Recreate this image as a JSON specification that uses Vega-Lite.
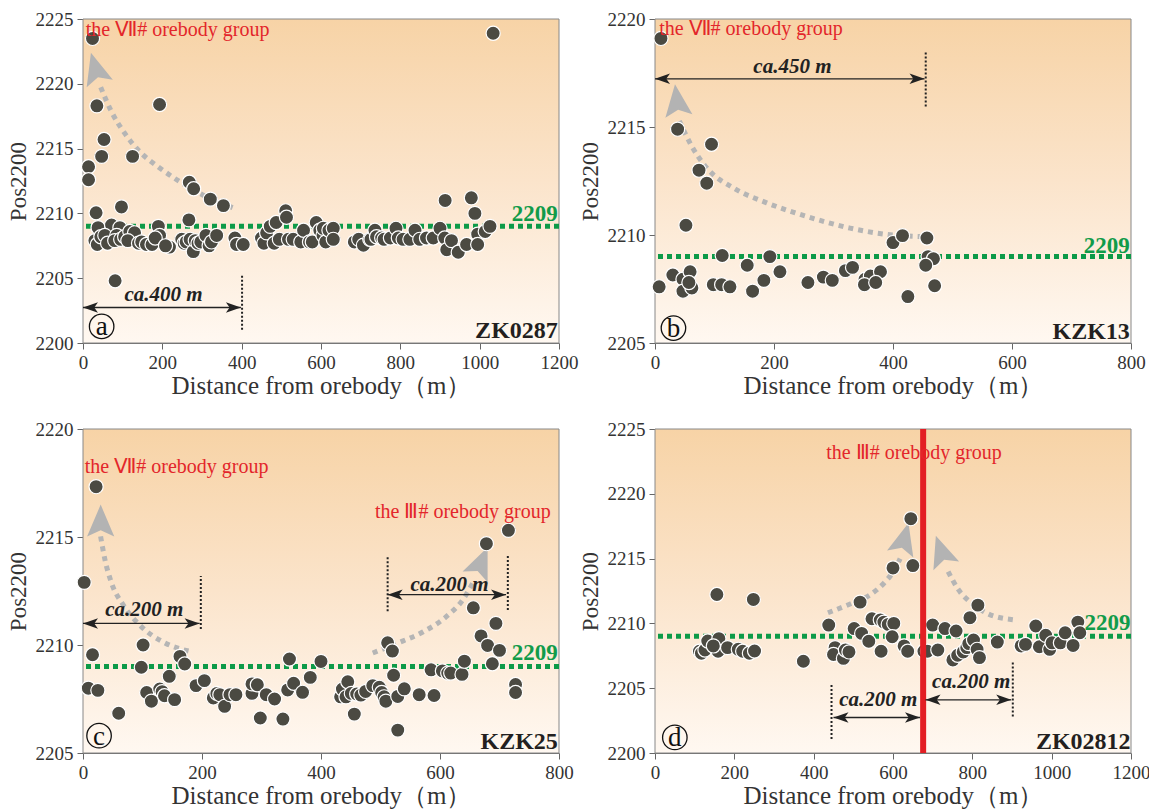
{
"$schema": "https://vega.github.io/schema/vega-lite/v6.json",
"background": "white",
"padding": {"left": 7, "top": 10, "right": 2, "bottom": 2},
"config": {
 "view": {"stroke": null},
 "axis": {"labelFont": "Liberation Serif", "labelFontSize": 19, "labelColor": "#333333", "titleFont": "Liberation Serif", "titleFontSize": 23, "titleFontWeight": "normal", "titleColor": "#333333", "domainColor": "#666666", "tickColor": "#666666", "tickSize": 6, "labelPadding": 4, "titlePadding": 3, "grid": false, "labelFlush": false, "labelOverlap": false},
 "axisX": {"titleFontSize": 25, "titlePadding": 1},
 "axisY": {"titlePadding": 5}
},
"datasets": {
 "frame": [
  {"p": "a", "m": 0, "m2": 1200, "v": 2200, "v2": 2225},
  {"p": "b", "m": 0, "m2": 800, "v": 2205, "v2": 2220},
  {"p": "c", "m": 0, "m2": 800, "v": 2205, "v2": 2220},
  {"p": "d", "m": 0, "m2": 1200, "v": 2200, "v2": 2225}
 ],
 "ref": [{"p": "a", "v": 2209}, {"p": "b", "v": 2209}, {"p": "c", "v": 2209}, {"p": "d", "v": 2209}],
 "redline": [{"p": "d", "m": 676}],
 "curves": [
  {"id": "a1", "m": 44.6, "v": 2219.74}, {"id": "a1", "m": 72.3, "v": 2217.82}, {"id": "a1", "m": 105.9, "v": 2216.15}, {"id": "a1", "m": 143.7, "v": 2214.74}, {"id": "a1", "m": 189.9, "v": 2213.59}, {"id": "a1", "m": 244.5, "v": 2212.44}, {"id": "a1", "m": 311.8, "v": 2211.28}, {"id": "a1", "m": 387.4, "v": 2210.33},
  {"id": "b1", "m": 40.9, "v": 2215.28}, {"id": "b1", "m": 61.6, "v": 2214.12}, {"id": "b1", "m": 86.8, "v": 2213.11}, {"id": "b1", "m": 131.6, "v": 2212.18}, {"id": "b1", "m": 187.7, "v": 2211.49}, {"id": "b1", "m": 254.9, "v": 2210.86}, {"id": "b1", "m": 327.7, "v": 2210.32}, {"id": "b1", "m": 395, "v": 2210.01}, {"id": "b1", "m": 451, "v": 2209.92},
  {"id": "c1", "m": 29.6, "v": 2215.03}, {"id": "c1", "m": 36.9, "v": 2213.95}, {"id": "c1", "m": 48.1, "v": 2212.86}, {"id": "c1", "m": 67.7, "v": 2211.85}, {"id": "c1", "m": 98.4, "v": 2210.84}, {"id": "c1", "m": 134.7, "v": 2210.14}, {"id": "c1", "m": 185, "v": 2209.67},
  {"id": "c2", "m": 487, "v": 2209.63}, {"id": "c2", "m": 526, "v": 2210.06}, {"id": "c2", "m": 571, "v": 2210.6}, {"id": "c2", "m": 610, "v": 2211.3}, {"id": "c2", "m": 638, "v": 2212.08}, {"id": "c2", "m": 655, "v": 2212.86},
  {"id": "d1", "m": 436, "v": 2210.82}, {"id": "d1", "m": 492, "v": 2211.5}, {"id": "d1", "m": 542, "v": 2212.2}, {"id": "d1", "m": 580, "v": 2213.2}, {"id": "d1", "m": 605, "v": 2214.2}, {"id": "d1", "m": 618, "v": 2215.0},
  {"id": "d2", "m": 739, "v": 2214.0}, {"id": "d2", "m": 765, "v": 2212.6}, {"id": "d2", "m": 798, "v": 2211.56}, {"id": "d2", "m": 836, "v": 2210.79}, {"id": "d2", "m": 903, "v": 2210.28}
 ],
 "heads": [
  {"id": "a1", "m": 20, "v": 2222.4},
  {"id": "b1", "m": 33.6, "v": 2216.98},
  {"id": "c1", "m": 29.7, "v": 2216.5},
  {"id": "c2", "m": 680, "v": 2214.52},
  {"id": "d1", "m": 639, "v": 2217.74},
  {"id": "d2", "m": 708, "v": 2216.77}
 ],
 "arrows": [
  {"p": "a", "m": 0, "m2": 398, "v": 2202.74},
  {"p": "b", "m": 0, "m2": 453, "v": 2217.23},
  {"p": "c", "m": 0, "m2": 196, "v": 2211.0},
  {"p": "c", "m": 512, "m2": 711, "v": 2212.33},
  {"p": "d", "m": 450, "m2": 668, "v": 2202.74},
  {"p": "d", "m": 682, "m2": 898, "v": 2204.1}
 ],
 "dots": [
  {"p": "a", "m": 401, "v": 2201.03, "v2": 2205.3},
  {"p": "b", "m": 455, "v": 2215.95, "v2": 2218.46},
  {"p": "c", "m": 198, "v": 2210.74, "v2": 2213.2},
  {"p": "c", "m": 512, "v": 2211.56, "v2": 2214.06},
  {"p": "c", "m": 714, "v": 2211.62, "v2": 2214.14},
  {"p": "d", "m": 445, "v": 2201.08, "v2": 2205.3},
  {"p": "d", "m": 902, "v": 2202.82, "v2": 2207.1}
 ],
 "labels": [
  {"p": "a", "k": "redl", "m": 7, "v": 2224.15, "t": "the Ⅶ# orebody group"},
  {"p": "a", "k": "ca", "m": 203, "v": 2203.7, "t": "ca.400 m"},
  {"p": "a", "k": "g", "m": 1197, "v": 2209.97, "t": "2209"},
  {"p": "a", "k": "zk", "m": 1197, "v": 2200.95, "t": "ZK0287"},
  {"p": "a", "k": "circ", "m": 47, "v": 2201.28, "t": "a"},
  {"p": "b", "k": "redl", "m": 7, "v": 2219.54, "t": "the Ⅶ# orebody group"},
  {"p": "b", "k": "ca", "m": 231, "v": 2217.8, "t": "ca.450 m"},
  {"p": "b", "k": "g", "m": 798, "v": 2209.49, "t": "2209"},
  {"p": "b", "k": "zk", "m": 798, "v": 2205.51, "t": "KZK13"},
  {"p": "b", "k": "circ", "m": 31, "v": 2205.69, "t": "b"},
  {"p": "c", "k": "redl", "m": 3, "v": 2218.25, "t": "the Ⅶ# orebody group"},
  {"p": "c", "k": "redr", "m": 786, "v": 2216.14, "t": "the Ⅲ# orebody group"},
  {"p": "c", "k": "ca", "m": 103, "v": 2211.6, "t": "ca.200 m"},
  {"p": "c", "k": "ca", "m": 616, "v": 2212.8, "t": "ca.200 m"},
  {"p": "c", "k": "g", "m": 798, "v": 2209.61, "t": "2209"},
  {"p": "c", "k": "zk", "m": 798, "v": 2205.49, "t": "KZK25"},
  {"p": "c", "k": "circ", "m": 27, "v": 2205.8, "t": "c"},
  {"p": "d", "k": "redc", "m": 653, "v": 2223.13, "t": "the Ⅲ# orebody group"},
  {"p": "d", "k": "ca", "m": 563, "v": 2204.1, "t": "ca.200 m"},
  {"p": "d", "k": "ca", "m": 797, "v": 2205.44, "t": "ca.200 m"},
  {"p": "d", "k": "g", "m": 1199, "v": 2210.05, "t": "2209"},
  {"p": "d", "k": "zk", "m": 1199, "v": 2200.82, "t": "ZK02812"},
  {"p": "d", "k": "circ", "m": 50, "v": 2201.2, "t": "d"}
 ],
 "pts": [
  {"p": "a", "m": 24, "v": 2223.5}, {"p": "a", "m": 1034, "v": 2223.9}, {"p": "a", "m": 35, "v": 2218.3}, {"p": "a", "m": 193, "v": 2218.4}, {"p": "a", "m": 53, "v": 2215.7}, {"p": "a", "m": 47, "v": 2214.4}, {"p": "a", "m": 125, "v": 2214.4}, {"p": "a", "m": 14, "v": 2213.6}, {"p": "a", "m": 14, "v": 2212.6}, {"p": "a", "m": 268, "v": 2212.4}, {"p": "a", "m": 279, "v": 2211.9}, {"p": "a", "m": 321, "v": 2211.1}, {"p": "a", "m": 354, "v": 2210.6}, {"p": "a", "m": 33, "v": 2210.05}, {"p": "a", "m": 97, "v": 2210.5}, {"p": "a", "m": 267, "v": 2209.5}, {"p": "a", "m": 81, "v": 2204.8}, {"p": "a", "m": 913, "v": 2211.0}, {"p": "a", "m": 979, "v": 2211.2}, {"p": "a", "m": 988, "v": 2210.0},
  {"p": "a", "m": 38, "v": 2208.9}, {"p": "a", "m": 72, "v": 2209.1}, {"p": "a", "m": 93, "v": 2208.9}, {"p": "a", "m": 30, "v": 2207.9}, {"p": "a", "m": 36, "v": 2207.6}, {"p": "a", "m": 45, "v": 2208.2}, {"p": "a", "m": 55, "v": 2208.3}, {"p": "a", "m": 62, "v": 2207.7}, {"p": "a", "m": 85, "v": 2208.3}, {"p": "a", "m": 80, "v": 2207.9}, {"p": "a", "m": 95, "v": 2208.0}, {"p": "a", "m": 105, "v": 2208.2}, {"p": "a", "m": 118, "v": 2208.6}, {"p": "a", "m": 130, "v": 2208.5}, {"p": "a", "m": 113, "v": 2207.9}, {"p": "a", "m": 140, "v": 2207.7}, {"p": "a", "m": 148, "v": 2207.8}, {"p": "a", "m": 160, "v": 2207.6}, {"p": "a", "m": 174, "v": 2207.6}, {"p": "a", "m": 190, "v": 2209.0}, {"p": "a", "m": 193, "v": 2208.3}, {"p": "a", "m": 182, "v": 2208.1}, {"p": "a", "m": 218, "v": 2207.4}, {"p": "a", "m": 208, "v": 2207.5}, {"p": "a", "m": 249, "v": 2208.0}, {"p": "a", "m": 255, "v": 2207.7}, {"p": "a", "m": 260, "v": 2207.8}, {"p": "a", "m": 270, "v": 2208.0}, {"p": "a", "m": 278, "v": 2207.05}, {"p": "a", "m": 283, "v": 2207.9}, {"p": "a", "m": 290, "v": 2207.7}, {"p": "a", "m": 297, "v": 2207.8}, {"p": "a", "m": 310, "v": 2208.3}, {"p": "a", "m": 318, "v": 2207.5}, {"p": "a", "m": 324, "v": 2207.8}, {"p": "a", "m": 337, "v": 2208.3}, {"p": "a", "m": 383, "v": 2208.1}, {"p": "a", "m": 387, "v": 2207.6}, {"p": "a", "m": 404, "v": 2207.6},
  {"p": "a", "m": 450, "v": 2208.1}, {"p": "a", "m": 456, "v": 2207.7}, {"p": "a", "m": 463, "v": 2208.5}, {"p": "a", "m": 472, "v": 2209.0}, {"p": "a", "m": 487, "v": 2209.3}, {"p": "a", "m": 482, "v": 2207.7}, {"p": "a", "m": 495, "v": 2208.0}, {"p": "a", "m": 511, "v": 2210.2}, {"p": "a", "m": 513, "v": 2209.7}, {"p": "a", "m": 518, "v": 2208.0}, {"p": "a", "m": 530, "v": 2208.0}, {"p": "a", "m": 549, "v": 2207.8}, {"p": "a", "m": 556, "v": 2208.7}, {"p": "a", "m": 571, "v": 2207.8}, {"p": "a", "m": 578, "v": 2207.8}, {"p": "a", "m": 588, "v": 2209.3}, {"p": "a", "m": 597, "v": 2208.7}, {"p": "a", "m": 605, "v": 2208.3}, {"p": "a", "m": 606, "v": 2208.85}, {"p": "a", "m": 612, "v": 2207.8}, {"p": "a", "m": 620, "v": 2208.7}, {"p": "a", "m": 631, "v": 2208.85}, {"p": "a", "m": 631, "v": 2208.0},
  {"p": "a", "m": 684, "v": 2207.8}, {"p": "a", "m": 695, "v": 2208.0}, {"p": "a", "m": 707, "v": 2207.55}, {"p": "a", "m": 723, "v": 2208.0}, {"p": "a", "m": 726, "v": 2208.0}, {"p": "a", "m": 736, "v": 2208.7}, {"p": "a", "m": 740, "v": 2208.2}, {"p": "a", "m": 753, "v": 2208.1}, {"p": "a", "m": 759, "v": 2208.0}, {"p": "a", "m": 775, "v": 2208.1}, {"p": "a", "m": 789, "v": 2208.85}, {"p": "a", "m": 795, "v": 2208.1}, {"p": "a", "m": 807, "v": 2208.0}, {"p": "a", "m": 824, "v": 2208.0}, {"p": "a", "m": 837, "v": 2208.7}, {"p": "a", "m": 849, "v": 2208.0}, {"p": "a", "m": 866, "v": 2208.1}, {"p": "a", "m": 883, "v": 2208.1}, {"p": "a", "m": 900, "v": 2208.85}, {"p": "a", "m": 912, "v": 2208.1}, {"p": "a", "m": 917, "v": 2207.2}, {"p": "a", "m": 929, "v": 2207.9}, {"p": "a", "m": 946, "v": 2207.0}, {"p": "a", "m": 967, "v": 2207.6}, {"p": "a", "m": 995, "v": 2208.4}, {"p": "a", "m": 995, "v": 2207.6}, {"p": "a", "m": 1014, "v": 2208.6}, {"p": "a", "m": 1026, "v": 2209.0},
  {"p": "b", "m": 10, "v": 2219.1}, {"p": "b", "m": 38, "v": 2214.9}, {"p": "b", "m": 95, "v": 2214.2}, {"p": "b", "m": 74, "v": 2213.0}, {"p": "b", "m": 87, "v": 2212.4}, {"p": "b", "m": 52, "v": 2210.45}, {"p": "b", "m": 400, "v": 2209.65}, {"p": "b", "m": 416, "v": 2209.97}, {"p": "b", "m": 457, "v": 2209.86}, {"p": "b", "m": 459, "v": 2209.0}, {"p": "b", "m": 468, "v": 2208.9}, {"p": "b", "m": 455, "v": 2208.6}, {"p": "b", "m": 470, "v": 2207.65}, {"p": "b", "m": 425, "v": 2207.15}, {"p": "b", "m": 113, "v": 2209.05}, {"p": "b", "m": 193, "v": 2209.0}, {"p": "b", "m": 7, "v": 2207.6}, {"p": "b", "m": 30, "v": 2208.15}, {"p": "b", "m": 47, "v": 2207.95}, {"p": "b", "m": 59, "v": 2208.3}, {"p": "b", "m": 47, "v": 2207.4}, {"p": "b", "m": 62, "v": 2207.55}, {"p": "b", "m": 57, "v": 2207.8}, {"p": "b", "m": 98, "v": 2207.7}, {"p": "b", "m": 112, "v": 2207.7}, {"p": "b", "m": 126, "v": 2207.6}, {"p": "b", "m": 155, "v": 2208.6}, {"p": "b", "m": 164, "v": 2207.4}, {"p": "b", "m": 183, "v": 2207.9}, {"p": "b", "m": 210, "v": 2208.3}, {"p": "b", "m": 257, "v": 2207.8}, {"p": "b", "m": 283, "v": 2208.05}, {"p": "b", "m": 298, "v": 2207.9}, {"p": "b", "m": 320, "v": 2208.35}, {"p": "b", "m": 332, "v": 2208.5}, {"p": "b", "m": 353, "v": 2207.95}, {"p": "b", "m": 362, "v": 2208.1}, {"p": "b", "m": 379, "v": 2208.3}, {"p": "b", "m": 352, "v": 2207.7}, {"p": "b", "m": 371, "v": 2207.8},
  {"p": "c", "m": 2, "v": 2212.9}, {"p": "c", "m": 22, "v": 2217.33}, {"p": "c", "m": 16, "v": 2209.55}, {"p": "c", "m": 9, "v": 2208.0}, {"p": "c", "m": 25, "v": 2207.9}, {"p": "c", "m": 60, "v": 2206.84}, {"p": "c", "m": 101, "v": 2210.0}, {"p": "c", "m": 98, "v": 2208.97}, {"p": "c", "m": 107, "v": 2207.8}, {"p": "c", "m": 115, "v": 2207.4}, {"p": "c", "m": 129, "v": 2207.96}, {"p": "c", "m": 133, "v": 2207.84}, {"p": "c", "m": 137, "v": 2207.65}, {"p": "c", "m": 145, "v": 2208.55}, {"p": "c", "m": 154, "v": 2207.47}, {"p": "c", "m": 163, "v": 2209.47}, {"p": "c", "m": 171, "v": 2209.12}, {"p": "c", "m": 190, "v": 2208.12}, {"p": "c", "m": 204, "v": 2208.35}, {"p": "c", "m": 219, "v": 2207.55}, {"p": "c", "m": 225, "v": 2207.76}, {"p": "c", "m": 230, "v": 2207.7}, {"p": "c", "m": 238, "v": 2207.16}, {"p": "c", "m": 247, "v": 2207.7}, {"p": "c", "m": 257, "v": 2207.7}, {"p": "c", "m": 284, "v": 2207.76}, {"p": "c", "m": 284, "v": 2208.2}, {"p": "c", "m": 293, "v": 2208.16}, {"p": "c", "m": 298, "v": 2206.62}, {"p": "c", "m": 308, "v": 2207.7}, {"p": "c", "m": 322, "v": 2207.5}, {"p": "c", "m": 336, "v": 2206.57}, {"p": "c", "m": 344, "v": 2207.92}, {"p": "c", "m": 347, "v": 2209.35}, {"p": "c", "m": 354, "v": 2208.23}, {"p": "c", "m": 369, "v": 2207.81}, {"p": "c", "m": 382, "v": 2208.5}, {"p": "c", "m": 400, "v": 2209.24}, {"p": "c", "m": 433, "v": 2207.6}, {"p": "c", "m": 436, "v": 2207.96}, {"p": "c", "m": 445, "v": 2208.3}, {"p": "c", "m": 442, "v": 2207.6}, {"p": "c", "m": 451, "v": 2207.76}, {"p": "c", "m": 456, "v": 2206.8}, {"p": "c", "m": 460, "v": 2207.73}, {"p": "c", "m": 467, "v": 2207.68}, {"p": "c", "m": 475, "v": 2207.85}, {"p": "c", "m": 487, "v": 2208.12}, {"p": "c", "m": 498, "v": 2208.04}, {"p": "c", "m": 502, "v": 2207.8}, {"p": "c", "m": 506, "v": 2207.6}, {"p": "c", "m": 509, "v": 2207.4}, {"p": "c", "m": 512, "v": 2210.1}, {"p": "c", "m": 520, "v": 2209.72}, {"p": "c", "m": 522, "v": 2208.6}, {"p": "c", "m": 529, "v": 2207.62}, {"p": "c", "m": 540, "v": 2207.97}, {"p": "c", "m": 529, "v": 2206.06}, {"p": "c", "m": 565, "v": 2207.7}, {"p": "c", "m": 585, "v": 2208.85}, {"p": "c", "m": 590, "v": 2207.66}, {"p": "c", "m": 604, "v": 2208.8}, {"p": "c", "m": 613, "v": 2208.7}, {"p": "c", "m": 618, "v": 2208.7}, {"p": "c", "m": 637, "v": 2208.64}, {"p": "c", "m": 641, "v": 2209.25}, {"p": "c", "m": 656, "v": 2211.72}, {"p": "c", "m": 669, "v": 2210.42}, {"p": "c", "m": 678, "v": 2214.69}, {"p": "c", "m": 680, "v": 2209.98}, {"p": "c", "m": 688, "v": 2209.13}, {"p": "c", "m": 694, "v": 2211.0}, {"p": "c", "m": 700, "v": 2209.75}, {"p": "c", "m": 715, "v": 2215.31}, {"p": "c", "m": 727, "v": 2208.17}, {"p": "c", "m": 727, "v": 2207.8},
  {"p": "d", "m": 156, "v": 2212.23}, {"p": "d", "m": 248, "v": 2211.85}, {"p": "d", "m": 374, "v": 2207.08}, {"p": "d", "m": 112, "v": 2207.85}, {"p": "d", "m": 117, "v": 2207.7}, {"p": "d", "m": 126, "v": 2207.95}, {"p": "d", "m": 133, "v": 2208.64}, {"p": "d", "m": 161, "v": 2208.82}, {"p": "d", "m": 159, "v": 2207.85}, {"p": "d", "m": 147, "v": 2208.26}, {"p": "d", "m": 183, "v": 2208.13}, {"p": "d", "m": 210, "v": 2208.0}, {"p": "d", "m": 221, "v": 2207.85}, {"p": "d", "m": 238, "v": 2207.7}, {"p": "d", "m": 251, "v": 2207.87}, {"p": "d", "m": 438, "v": 2209.87}, {"p": "d", "m": 454, "v": 2208.13}, {"p": "d", "m": 450, "v": 2207.6}, {"p": "d", "m": 475, "v": 2207.3}, {"p": "d", "m": 480, "v": 2207.95}, {"p": "d", "m": 489, "v": 2207.8}, {"p": "d", "m": 502, "v": 2209.6}, {"p": "d", "m": 517, "v": 2211.64}, {"p": "d", "m": 521, "v": 2209.23}, {"p": "d", "m": 539, "v": 2208.62}, {"p": "d", "m": 547, "v": 2210.36}, {"p": "d", "m": 570, "v": 2207.85}, {"p": "d", "m": 568, "v": 2210.26}, {"p": "d", "m": 577, "v": 2210.1}, {"p": "d", "m": 588, "v": 2209.92}, {"p": "d", "m": 602, "v": 2210.0}, {"p": "d", "m": 598, "v": 2208.97}, {"p": "d", "m": 600, "v": 2214.28}, {"p": "d", "m": 628, "v": 2208.26}, {"p": "d", "m": 637, "v": 2207.85}, {"p": "d", "m": 645, "v": 2218.08}, {"p": "d", "m": 650, "v": 2214.46}, {"p": "d", "m": 678, "v": 2207.85}, {"p": "d", "m": 687, "v": 2207.85}, {"p": "d", "m": 700, "v": 2209.87}, {"p": "d", "m": 713, "v": 2207.95}, {"p": "d", "m": 731, "v": 2209.6}, {"p": "d", "m": 759, "v": 2209.41}, {"p": "d", "m": 751, "v": 2207.18}, {"p": "d", "m": 763, "v": 2207.54}, {"p": "d", "m": 777, "v": 2207.8}, {"p": "d", "m": 786, "v": 2208.13}, {"p": "d", "m": 791, "v": 2208.44}, {"p": "d", "m": 803, "v": 2208.72}, {"p": "d", "m": 794, "v": 2210.44}, {"p": "d", "m": 814, "v": 2211.41}, {"p": "d", "m": 812, "v": 2208.0}, {"p": "d", "m": 818, "v": 2207.36}, {"p": "d", "m": 863, "v": 2208.56}, {"p": "d", "m": 923, "v": 2208.26}, {"p": "d", "m": 934, "v": 2208.38}, {"p": "d", "m": 960, "v": 2209.8}, {"p": "d", "m": 969, "v": 2208.2}, {"p": "d", "m": 985, "v": 2209.08}, {"p": "d", "m": 995, "v": 2208.0}, {"p": "d", "m": 1001, "v": 2208.5}, {"p": "d", "m": 1022, "v": 2208.5}, {"p": "d", "m": 1034, "v": 2209.28}, {"p": "d", "m": 1054, "v": 2208.3}, {"p": "d", "m": 1066, "v": 2210.1}, {"p": "d", "m": 1071, "v": 2209.28}
 ]
},
"columns": 2,
"spacing": {"row": 86, "column": 96},
"bounds": "flush",
"concat": [
 {
  "width": 476, "height": 324,
  "layer": [
   {"data": {"name": "frame"}, "transform": [{"filter": "datum.p == 'a'"}],
    "mark": {"type": "rect", "stroke": "#888888", "strokeWidth": 1, "fill": {"gradient": "linear", "x1": 0, "y1": 0, "x2": 0, "y2": 1, "stops": [{"offset": 0, "color": "#F7D3A6"}, {"offset": 0.5, "color": "#FBE4CB"}, {"offset": 1, "color": "#FFF8F1"}]}},
    "encoding": {
     "x": {"field": "m", "type": "quantitative", "scale": {"domain": [0, 1200], "nice": false, "zero": false}, "axis": {"values": [0, 200, 400, 600, 800, 1000, 1200], "format": "d", "title": "Distance from orebody（m）"}},
     "x2": {"field": "m2"},
     "y": {"field": "v", "type": "quantitative", "scale": {"domain": [2200, 2225], "nice": false, "zero": false}, "axis": {"values": [2200, 2205, 2210, 2215, 2220, 2225], "format": "d", "title": "Pos2200"}},
     "y2": {"field": "v2"}}},
   {"data": {"name": "ref"}, "transform": [{"filter": "datum.p == 'a'"}],
    "mark": {"type": "rule", "color": "#0C9A48", "strokeWidth": 5, "strokeDash": [5, 4]},
    "encoding": {"y": {"field": "v", "type": "quantitative"}}},
   {"data": {"name": "curves"}, "transform": [{"filter": "datum.id == 'a1'"}],
    "mark": {"type": "line", "color": "#B5B5B5", "strokeWidth": 5, "strokeDash": [5, 5], "interpolate": "monotone"},
    "encoding": {"x": {"field": "m", "type": "quantitative"}, "y": {"field": "v", "type": "quantitative"}}},
   {"data": {"name": "heads"}, "transform": [{"filter": "datum.id == 'a1'"}],
    "mark": {"type": "point", "shape": "M0,0L-0.85,2L0,1.6L0.85,2Z", "size": 1024, "filled": true, "fill": "#B3B3B3", "strokeWidth": 0, "opacity": 1, "angle": -16},
    "encoding": {"x": {"field": "m", "type": "quantitative"}, "y": {"field": "v", "type": "quantitative"}}},
   {"data": {"name": "pts"}, "transform": [{"filter": "datum.p == 'a'"}],
    "mark": {"type": "point", "shape": "circle", "filled": true, "fill": "#4B4A42", "stroke": "#FFFFFF", "strokeWidth": 1.2, "size": 200, "opacity": 1},
    "encoding": {"x": {"field": "m", "type": "quantitative"}, "y": {"field": "v", "type": "quantitative"}}},
   {"data": {"name": "arrows"}, "transform": [{"filter": "datum.p == 'a'"}],
    "mark": {"type": "rule", "color": "#222222", "strokeWidth": 1.3},
    "encoding": {"x": {"field": "m", "type": "quantitative"}, "x2": {"field": "m2"}, "y": {"field": "v", "type": "quantitative"}}},
   {"data": {"name": "arrows"}, "transform": [{"filter": "datum.p == 'a'"}],
    "mark": {"type": "point", "shape": "M0,0L2,-0.7L1.5,0L2,0.7Z", "size": 225, "filled": true, "fill": "#222222", "strokeWidth": 0, "opacity": 1},
    "encoding": {"x": {"field": "m", "type": "quantitative"}, "y": {"field": "v", "type": "quantitative"}}},
   {"data": {"name": "arrows"}, "transform": [{"filter": "datum.p == 'a'"}],
    "mark": {"type": "point", "shape": "M0,0L-2,-0.7L-1.5,0L-2,0.7Z", "size": 225, "filled": true, "fill": "#222222", "strokeWidth": 0, "opacity": 1},
    "encoding": {"x": {"field": "m2", "type": "quantitative"}, "y": {"field": "v", "type": "quantitative"}}},
   {"data": {"name": "dots"}, "transform": [{"filter": "datum.p == 'a'"}],
    "mark": {"type": "rule", "color": "#222222", "strokeWidth": 2, "strokeDash": [2, 2]},
    "encoding": {"x": {"field": "m", "type": "quantitative"}, "y": {"field": "v", "type": "quantitative"}, "y2": {"field": "v2"}}},
   {"data": {"name": "labels"}, "transform": [{"filter": "datum.p == 'a' && datum.k == 'redl'"}],
    "mark": {"type": "text", "align": "left", "baseline": "middle", "font": "Liberation Serif", "fontSize": 20, "color": "#E3262B"},
    "encoding": {"x": {"field": "m", "type": "quantitative"}, "y": {"field": "v", "type": "quantitative"}, "text": {"field": "t"}}},
   {"data": {"name": "labels"}, "transform": [{"filter": "datum.p == 'a' && datum.k == 'ca'"}],
    "mark": {"type": "text", "align": "center", "baseline": "middle", "font": "Liberation Serif", "fontSize": 21, "fontWeight": "bold", "fontStyle": "italic", "color": "#222222"},
    "encoding": {"x": {"field": "m", "type": "quantitative"}, "y": {"field": "v", "type": "quantitative"}, "text": {"field": "t"}}},
   {"data": {"name": "labels"}, "transform": [{"filter": "datum.p == 'a' && datum.k == 'g'"}],
    "mark": {"type": "text", "align": "right", "baseline": "middle", "font": "Liberation Serif", "fontSize": 23, "fontWeight": "bold", "color": "#119B4A"},
    "encoding": {"x": {"field": "m", "type": "quantitative"}, "y": {"field": "v", "type": "quantitative"}, "text": {"field": "t"}}},
   {"data": {"name": "labels"}, "transform": [{"filter": "datum.p == 'a' && datum.k == 'zk'"}],
    "mark": {"type": "text", "align": "right", "baseline": "middle", "font": "Liberation Serif", "fontSize": 24, "fontWeight": "bold", "color": "#231F20"},
    "encoding": {"x": {"field": "m", "type": "quantitative"}, "y": {"field": "v", "type": "quantitative"}, "text": {"field": "t"}}},
   {"data": {"name": "labels"}, "transform": [{"filter": "datum.p == 'a' && datum.k == 'circ'"}],
    "mark": {"type": "point", "shape": "circle", "filled": false, "stroke": "#111111", "strokeWidth": 1.3, "size": 600, "opacity": 1},
    "encoding": {"x": {"field": "m", "type": "quantitative"}, "y": {"field": "v", "type": "quantitative"}}},
   {"data": {"name": "labels"}, "transform": [{"filter": "datum.p == 'a' && datum.k == 'circ'"}],
    "mark": {"type": "text", "align": "center", "baseline": "middle", "font": "Liberation Serif", "fontSize": 27, "color": "#111111", "dy": 1},
    "encoding": {"x": {"field": "m", "type": "quantitative"}, "y": {"field": "v", "type": "quantitative"}, "text": {"field": "t"}}}
  ]
 },
 {
  "width": 476, "height": 324,
  "layer": [
   {"data": {"name": "frame"}, "transform": [{"filter": "datum.p == 'b'"}],
    "mark": {"type": "rect", "stroke": "#888888", "strokeWidth": 1, "fill": {"gradient": "linear", "x1": 0, "y1": 0, "x2": 0, "y2": 1, "stops": [{"offset": 0, "color": "#F7D3A6"}, {"offset": 0.5, "color": "#FBE4CB"}, {"offset": 1, "color": "#FFF8F1"}]}},
    "encoding": {
     "x": {"field": "m", "type": "quantitative", "scale": {"domain": [0, 800], "nice": false, "zero": false}, "axis": {"values": [0, 200, 400, 600, 800], "format": "d", "title": "Distance from orebody（m）"}},
     "x2": {"field": "m2"},
     "y": {"field": "v", "type": "quantitative", "scale": {"domain": [2205, 2220], "nice": false, "zero": false}, "axis": {"values": [2205, 2210, 2215, 2220], "format": "d", "title": "Pos2200"}},
     "y2": {"field": "v2"}}},
   {"data": {"name": "ref"}, "transform": [{"filter": "datum.p == 'b'"}],
    "mark": {"type": "rule", "color": "#0C9A48", "strokeWidth": 5, "strokeDash": [5, 4]},
    "encoding": {"y": {"field": "v", "type": "quantitative"}}},
   {"data": {"name": "curves"}, "transform": [{"filter": "datum.id == 'b1'"}],
    "mark": {"type": "line", "color": "#B5B5B5", "strokeWidth": 5, "strokeDash": [5, 5], "interpolate": "monotone"},
    "encoding": {"x": {"field": "m", "type": "quantitative"}, "y": {"field": "v", "type": "quantitative"}}},
   {"data": {"name": "heads"}, "transform": [{"filter": "datum.id == 'b1'"}],
    "mark": {"type": "point", "shape": "M0,0L-0.85,2L0,1.6L0.85,2Z", "size": 1024, "filled": true, "fill": "#B3B3B3", "strokeWidth": 0, "opacity": 1, "angle": -7},
    "encoding": {"x": {"field": "m", "type": "quantitative"}, "y": {"field": "v", "type": "quantitative"}}},
   {"data": {"name": "pts"}, "transform": [{"filter": "datum.p == 'b'"}],
    "mark": {"type": "point", "shape": "circle", "filled": true, "fill": "#4B4A42", "stroke": "#FFFFFF", "strokeWidth": 1.2, "size": 200, "opacity": 1},
    "encoding": {"x": {"field": "m", "type": "quantitative"}, "y": {"field": "v", "type": "quantitative"}}},
   {"data": {"name": "arrows"}, "transform": [{"filter": "datum.p == 'b'"}],
    "mark": {"type": "rule", "color": "#222222", "strokeWidth": 1.3},
    "encoding": {"x": {"field": "m", "type": "quantitative"}, "x2": {"field": "m2"}, "y": {"field": "v", "type": "quantitative"}}},
   {"data": {"name": "arrows"}, "transform": [{"filter": "datum.p == 'b'"}],
    "mark": {"type": "point", "shape": "M0,0L2,-0.7L1.5,0L2,0.7Z", "size": 225, "filled": true, "fill": "#222222", "strokeWidth": 0, "opacity": 1},
    "encoding": {"x": {"field": "m", "type": "quantitative"}, "y": {"field": "v", "type": "quantitative"}}},
   {"data": {"name": "arrows"}, "transform": [{"filter": "datum.p == 'b'"}],
    "mark": {"type": "point", "shape": "M0,0L-2,-0.7L-1.5,0L-2,0.7Z", "size": 225, "filled": true, "fill": "#222222", "strokeWidth": 0, "opacity": 1},
    "encoding": {"x": {"field": "m2", "type": "quantitative"}, "y": {"field": "v", "type": "quantitative"}}},
   {"data": {"name": "dots"}, "transform": [{"filter": "datum.p == 'b'"}],
    "mark": {"type": "rule", "color": "#222222", "strokeWidth": 2, "strokeDash": [2, 2]},
    "encoding": {"x": {"field": "m", "type": "quantitative"}, "y": {"field": "v", "type": "quantitative"}, "y2": {"field": "v2"}}},
   {"data": {"name": "labels"}, "transform": [{"filter": "datum.p == 'b' && datum.k == 'redl'"}],
    "mark": {"type": "text", "align": "left", "baseline": "middle", "font": "Liberation Serif", "fontSize": 20, "color": "#E3262B"},
    "encoding": {"x": {"field": "m", "type": "quantitative"}, "y": {"field": "v", "type": "quantitative"}, "text": {"field": "t"}}},
   {"data": {"name": "labels"}, "transform": [{"filter": "datum.p == 'b' && datum.k == 'ca'"}],
    "mark": {"type": "text", "align": "center", "baseline": "middle", "font": "Liberation Serif", "fontSize": 21, "fontWeight": "bold", "fontStyle": "italic", "color": "#222222"},
    "encoding": {"x": {"field": "m", "type": "quantitative"}, "y": {"field": "v", "type": "quantitative"}, "text": {"field": "t"}}},
   {"data": {"name": "labels"}, "transform": [{"filter": "datum.p == 'b' && datum.k == 'g'"}],
    "mark": {"type": "text", "align": "right", "baseline": "middle", "font": "Liberation Serif", "fontSize": 23, "fontWeight": "bold", "color": "#119B4A"},
    "encoding": {"x": {"field": "m", "type": "quantitative"}, "y": {"field": "v", "type": "quantitative"}, "text": {"field": "t"}}},
   {"data": {"name": "labels"}, "transform": [{"filter": "datum.p == 'b' && datum.k == 'zk'"}],
    "mark": {"type": "text", "align": "right", "baseline": "middle", "font": "Liberation Serif", "fontSize": 24, "fontWeight": "bold", "color": "#231F20"},
    "encoding": {"x": {"field": "m", "type": "quantitative"}, "y": {"field": "v", "type": "quantitative"}, "text": {"field": "t"}}},
   {"data": {"name": "labels"}, "transform": [{"filter": "datum.p == 'b' && datum.k == 'circ'"}],
    "mark": {"type": "point", "shape": "circle", "filled": false, "stroke": "#111111", "strokeWidth": 1.3, "size": 600, "opacity": 1},
    "encoding": {"x": {"field": "m", "type": "quantitative"}, "y": {"field": "v", "type": "quantitative"}}},
   {"data": {"name": "labels"}, "transform": [{"filter": "datum.p == 'b' && datum.k == 'circ'"}],
    "mark": {"type": "text", "align": "center", "baseline": "middle", "font": "Liberation Serif", "fontSize": 27, "color": "#111111", "dy": 1},
    "encoding": {"x": {"field": "m", "type": "quantitative"}, "y": {"field": "v", "type": "quantitative"}, "text": {"field": "t"}}}
  ]
 },
 {
  "width": 476, "height": 324,
  "layer": [
   {"data": {"name": "frame"}, "transform": [{"filter": "datum.p == 'c'"}],
    "mark": {"type": "rect", "stroke": "#888888", "strokeWidth": 1, "fill": {"gradient": "linear", "x1": 0, "y1": 0, "x2": 0, "y2": 1, "stops": [{"offset": 0, "color": "#F7D3A6"}, {"offset": 0.5, "color": "#FBE4CB"}, {"offset": 1, "color": "#FFF8F1"}]}},
    "encoding": {
     "x": {"field": "m", "type": "quantitative", "scale": {"domain": [0, 800], "nice": false, "zero": false}, "axis": {"values": [0, 200, 400, 600, 800], "format": "d", "title": "Distance from orebody（m）"}},
     "x2": {"field": "m2"},
     "y": {"field": "v", "type": "quantitative", "scale": {"domain": [2205, 2220], "nice": false, "zero": false}, "axis": {"values": [2205, 2210, 2215, 2220], "format": "d", "title": "Pos2200"}},
     "y2": {"field": "v2"}}},
   {"data": {"name": "ref"}, "transform": [{"filter": "datum.p == 'c'"}],
    "mark": {"type": "rule", "color": "#0C9A48", "strokeWidth": 5, "strokeDash": [5, 4]},
    "encoding": {"y": {"field": "v", "type": "quantitative"}}},
   {"data": {"name": "curves"}, "transform": [{"filter": "datum.id == 'c1' || datum.id == 'c2'"}],
    "mark": {"type": "line", "color": "#B5B5B5", "strokeWidth": 5, "strokeDash": [5, 5], "interpolate": "monotone"},
    "encoding": {"x": {"field": "m", "type": "quantitative"}, "y": {"field": "v", "type": "quantitative"}, "detail": {"field": "id"}}},
   {"data": {"name": "heads"}, "transform": [{"filter": "datum.id == 'c1'"}],
    "mark": {"type": "point", "shape": "M0,0L-0.85,2L0,1.6L0.85,2Z", "size": 1024, "filled": true, "fill": "#B3B3B3", "strokeWidth": 0, "opacity": 1, "angle": 0},
    "encoding": {"x": {"field": "m", "type": "quantitative"}, "y": {"field": "v", "type": "quantitative"}}},
   {"data": {"name": "heads"}, "transform": [{"filter": "datum.id == 'c2'"}],
    "mark": {"type": "point", "shape": "M0,0L-0.85,2L0,1.6L0.85,2Z", "size": 1024, "filled": true, "fill": "#B3B3B3", "strokeWidth": 0, "opacity": 1, "angle": 23},
    "encoding": {"x": {"field": "m", "type": "quantitative"}, "y": {"field": "v", "type": "quantitative"}}},
   {"data": {"name": "pts"}, "transform": [{"filter": "datum.p == 'c'"}],
    "mark": {"type": "point", "shape": "circle", "filled": true, "fill": "#4B4A42", "stroke": "#FFFFFF", "strokeWidth": 1.2, "size": 200, "opacity": 1},
    "encoding": {"x": {"field": "m", "type": "quantitative"}, "y": {"field": "v", "type": "quantitative"}}},
   {"data": {"name": "arrows"}, "transform": [{"filter": "datum.p == 'c'"}],
    "mark": {"type": "rule", "color": "#222222", "strokeWidth": 1.3},
    "encoding": {"x": {"field": "m", "type": "quantitative"}, "x2": {"field": "m2"}, "y": {"field": "v", "type": "quantitative"}}},
   {"data": {"name": "arrows"}, "transform": [{"filter": "datum.p == 'c'"}],
    "mark": {"type": "point", "shape": "M0,0L2,-0.7L1.5,0L2,0.7Z", "size": 225, "filled": true, "fill": "#222222", "strokeWidth": 0, "opacity": 1},
    "encoding": {"x": {"field": "m", "type": "quantitative"}, "y": {"field": "v", "type": "quantitative"}}},
   {"data": {"name": "arrows"}, "transform": [{"filter": "datum.p == 'c'"}],
    "mark": {"type": "point", "shape": "M0,0L-2,-0.7L-1.5,0L-2,0.7Z", "size": 225, "filled": true, "fill": "#222222", "strokeWidth": 0, "opacity": 1},
    "encoding": {"x": {"field": "m2", "type": "quantitative"}, "y": {"field": "v", "type": "quantitative"}}},
   {"data": {"name": "dots"}, "transform": [{"filter": "datum.p == 'c'"}],
    "mark": {"type": "rule", "color": "#222222", "strokeWidth": 2, "strokeDash": [2, 2]},
    "encoding": {"x": {"field": "m", "type": "quantitative"}, "y": {"field": "v", "type": "quantitative"}, "y2": {"field": "v2"}}},
   {"data": {"name": "labels"}, "transform": [{"filter": "datum.p == 'c' && datum.k == 'redl'"}],
    "mark": {"type": "text", "align": "left", "baseline": "middle", "font": "Liberation Serif", "fontSize": 20, "color": "#E3262B"},
    "encoding": {"x": {"field": "m", "type": "quantitative"}, "y": {"field": "v", "type": "quantitative"}, "text": {"field": "t"}}},
   {"data": {"name": "labels"}, "transform": [{"filter": "datum.p == 'c' && datum.k == 'redr'"}],
    "mark": {"type": "text", "align": "right", "baseline": "middle", "font": "Liberation Serif", "fontSize": 20, "color": "#E3262B"},
    "encoding": {"x": {"field": "m", "type": "quantitative"}, "y": {"field": "v", "type": "quantitative"}, "text": {"field": "t"}}},
   {"data": {"name": "labels"}, "transform": [{"filter": "datum.p == 'c' && datum.k == 'ca'"}],
    "mark": {"type": "text", "align": "center", "baseline": "middle", "font": "Liberation Serif", "fontSize": 21, "fontWeight": "bold", "fontStyle": "italic", "color": "#222222"},
    "encoding": {"x": {"field": "m", "type": "quantitative"}, "y": {"field": "v", "type": "quantitative"}, "text": {"field": "t"}}},
   {"data": {"name": "labels"}, "transform": [{"filter": "datum.p == 'c' && datum.k == 'g'"}],
    "mark": {"type": "text", "align": "right", "baseline": "middle", "font": "Liberation Serif", "fontSize": 23, "fontWeight": "bold", "color": "#119B4A"},
    "encoding": {"x": {"field": "m", "type": "quantitative"}, "y": {"field": "v", "type": "quantitative"}, "text": {"field": "t"}}},
   {"data": {"name": "labels"}, "transform": [{"filter": "datum.p == 'c' && datum.k == 'zk'"}],
    "mark": {"type": "text", "align": "right", "baseline": "middle", "font": "Liberation Serif", "fontSize": 24, "fontWeight": "bold", "color": "#231F20"},
    "encoding": {"x": {"field": "m", "type": "quantitative"}, "y": {"field": "v", "type": "quantitative"}, "text": {"field": "t"}}},
   {"data": {"name": "labels"}, "transform": [{"filter": "datum.p == 'c' && datum.k == 'circ'"}],
    "mark": {"type": "point", "shape": "circle", "filled": false, "stroke": "#111111", "strokeWidth": 1.3, "size": 600, "opacity": 1},
    "encoding": {"x": {"field": "m", "type": "quantitative"}, "y": {"field": "v", "type": "quantitative"}}},
   {"data": {"name": "labels"}, "transform": [{"filter": "datum.p == 'c' && datum.k == 'circ'"}],
    "mark": {"type": "text", "align": "center", "baseline": "middle", "font": "Liberation Serif", "fontSize": 27, "color": "#111111", "dy": 1},
    "encoding": {"x": {"field": "m", "type": "quantitative"}, "y": {"field": "v", "type": "quantitative"}, "text": {"field": "t"}}}
  ]
 },
 {
  "width": 476, "height": 324,
  "layer": [
   {"data": {"name": "frame"}, "transform": [{"filter": "datum.p == 'd'"}],
    "mark": {"type": "rect", "stroke": "#888888", "strokeWidth": 1, "fill": {"gradient": "linear", "x1": 0, "y1": 0, "x2": 0, "y2": 1, "stops": [{"offset": 0, "color": "#F7D3A6"}, {"offset": 0.5, "color": "#FBE4CB"}, {"offset": 1, "color": "#FFF8F1"}]}},
    "encoding": {
     "x": {"field": "m", "type": "quantitative", "scale": {"domain": [0, 1200], "nice": false, "zero": false}, "axis": {"values": [0, 200, 400, 600, 800, 1000, 1200], "format": "d", "title": "Distance from orebody（m）"}},
     "x2": {"field": "m2"},
     "y": {"field": "v", "type": "quantitative", "scale": {"domain": [2200, 2225], "nice": false, "zero": false}, "axis": {"values": [2200, 2205, 2210, 2215, 2220, 2225], "format": "d", "title": "Pos2200"}},
     "y2": {"field": "v2"}}},
   {"data": {"name": "ref"}, "transform": [{"filter": "datum.p == 'd'"}],
    "mark": {"type": "rule", "color": "#0C9A48", "strokeWidth": 5, "strokeDash": [5, 4]},
    "encoding": {"y": {"field": "v", "type": "quantitative"}}},
   {"data": {"name": "curves"}, "transform": [{"filter": "datum.id == 'd1' || datum.id == 'd2'"}],
    "mark": {"type": "line", "color": "#B5B5B5", "strokeWidth": 5, "strokeDash": [5, 5], "interpolate": "monotone"},
    "encoding": {"x": {"field": "m", "type": "quantitative"}, "y": {"field": "v", "type": "quantitative"}, "detail": {"field": "id"}}},
   {"data": {"name": "heads"}, "transform": [{"filter": "datum.id == 'd1'"}],
    "mark": {"type": "point", "shape": "M0,0L-0.85,2L0,1.6L0.85,2Z", "size": 1024, "filled": true, "fill": "#B3B3B3", "strokeWidth": 0, "opacity": 1, "angle": 15},
    "encoding": {"x": {"field": "m", "type": "quantitative"}, "y": {"field": "v", "type": "quantitative"}}},
   {"data": {"name": "heads"}, "transform": [{"filter": "datum.id == 'd2'"}],
    "mark": {"type": "point", "shape": "M0,0L-0.85,2L0,1.6L0.85,2Z", "size": 1024, "filled": true, "fill": "#B3B3B3", "strokeWidth": 0, "opacity": 1, "angle": -19},
    "encoding": {"x": {"field": "m", "type": "quantitative"}, "y": {"field": "v", "type": "quantitative"}}},
   {"data": {"name": "pts"}, "transform": [{"filter": "datum.p == 'd'"}],
    "mark": {"type": "point", "shape": "circle", "filled": true, "fill": "#4B4A42", "stroke": "#FFFFFF", "strokeWidth": 1.2, "size": 200, "opacity": 1},
    "encoding": {"x": {"field": "m", "type": "quantitative"}, "y": {"field": "v", "type": "quantitative"}}},
   {"data": {"name": "redline"}, "transform": [{"filter": "datum.p == 'd'"}],
    "mark": {"type": "rule", "color": "#E31E24", "strokeWidth": 6},
    "encoding": {"x": {"field": "m", "type": "quantitative"}}},
   {"data": {"name": "arrows"}, "transform": [{"filter": "datum.p == 'd'"}],
    "mark": {"type": "rule", "color": "#222222", "strokeWidth": 1.3},
    "encoding": {"x": {"field": "m", "type": "quantitative"}, "x2": {"field": "m2"}, "y": {"field": "v", "type": "quantitative"}}},
   {"data": {"name": "arrows"}, "transform": [{"filter": "datum.p == 'd'"}],
    "mark": {"type": "point", "shape": "M0,0L2,-0.7L1.5,0L2,0.7Z", "size": 225, "filled": true, "fill": "#222222", "strokeWidth": 0, "opacity": 1},
    "encoding": {"x": {"field": "m", "type": "quantitative"}, "y": {"field": "v", "type": "quantitative"}}},
   {"data": {"name": "arrows"}, "transform": [{"filter": "datum.p == 'd'"}],
    "mark": {"type": "point", "shape": "M0,0L-2,-0.7L-1.5,0L-2,0.7Z", "size": 225, "filled": true, "fill": "#222222", "strokeWidth": 0, "opacity": 1},
    "encoding": {"x": {"field": "m2", "type": "quantitative"}, "y": {"field": "v", "type": "quantitative"}}},
   {"data": {"name": "dots"}, "transform": [{"filter": "datum.p == 'd'"}],
    "mark": {"type": "rule", "color": "#222222", "strokeWidth": 2, "strokeDash": [2, 2]},
    "encoding": {"x": {"field": "m", "type": "quantitative"}, "y": {"field": "v", "type": "quantitative"}, "y2": {"field": "v2"}}},
   {"data": {"name": "labels"}, "transform": [{"filter": "datum.p == 'd' && datum.k == 'redc'"}],
    "mark": {"type": "text", "align": "center", "baseline": "middle", "font": "Liberation Serif", "fontSize": 20, "color": "#E3262B"},
    "encoding": {"x": {"field": "m", "type": "quantitative"}, "y": {"field": "v", "type": "quantitative"}, "text": {"field": "t"}}},
   {"data": {"name": "labels"}, "transform": [{"filter": "datum.p == 'd' && datum.k == 'ca'"}],
    "mark": {"type": "text", "align": "center", "baseline": "middle", "font": "Liberation Serif", "fontSize": 21, "fontWeight": "bold", "fontStyle": "italic", "color": "#222222"},
    "encoding": {"x": {"field": "m", "type": "quantitative"}, "y": {"field": "v", "type": "quantitative"}, "text": {"field": "t"}}},
   {"data": {"name": "labels"}, "transform": [{"filter": "datum.p == 'd' && datum.k == 'g'"}],
    "mark": {"type": "text", "align": "right", "baseline": "middle", "font": "Liberation Serif", "fontSize": 23, "fontWeight": "bold", "color": "#119B4A"},
    "encoding": {"x": {"field": "m", "type": "quantitative"}, "y": {"field": "v", "type": "quantitative"}, "text": {"field": "t"}}},
   {"data": {"name": "labels"}, "transform": [{"filter": "datum.p == 'd' && datum.k == 'zk'"}],
    "mark": {"type": "text", "align": "right", "baseline": "middle", "font": "Liberation Serif", "fontSize": 24, "fontWeight": "bold", "color": "#231F20"},
    "encoding": {"x": {"field": "m", "type": "quantitative"}, "y": {"field": "v", "type": "quantitative"}, "text": {"field": "t"}}},
   {"data": {"name": "labels"}, "transform": [{"filter": "datum.p == 'd' && datum.k == 'circ'"}],
    "mark": {"type": "point", "shape": "circle", "filled": false, "stroke": "#111111", "strokeWidth": 1.3, "size": 600, "opacity": 1},
    "encoding": {"x": {"field": "m", "type": "quantitative"}, "y": {"field": "v", "type": "quantitative"}}},
   {"data": {"name": "labels"}, "transform": [{"filter": "datum.p == 'd' && datum.k == 'circ'"}],
    "mark": {"type": "text", "align": "center", "baseline": "middle", "font": "Liberation Serif", "fontSize": 27, "color": "#111111", "dy": 1},
    "encoding": {"x": {"field": "m", "type": "quantitative"}, "y": {"field": "v", "type": "quantitative"}, "text": {"field": "t"}}}
  ]
 }
]
}
